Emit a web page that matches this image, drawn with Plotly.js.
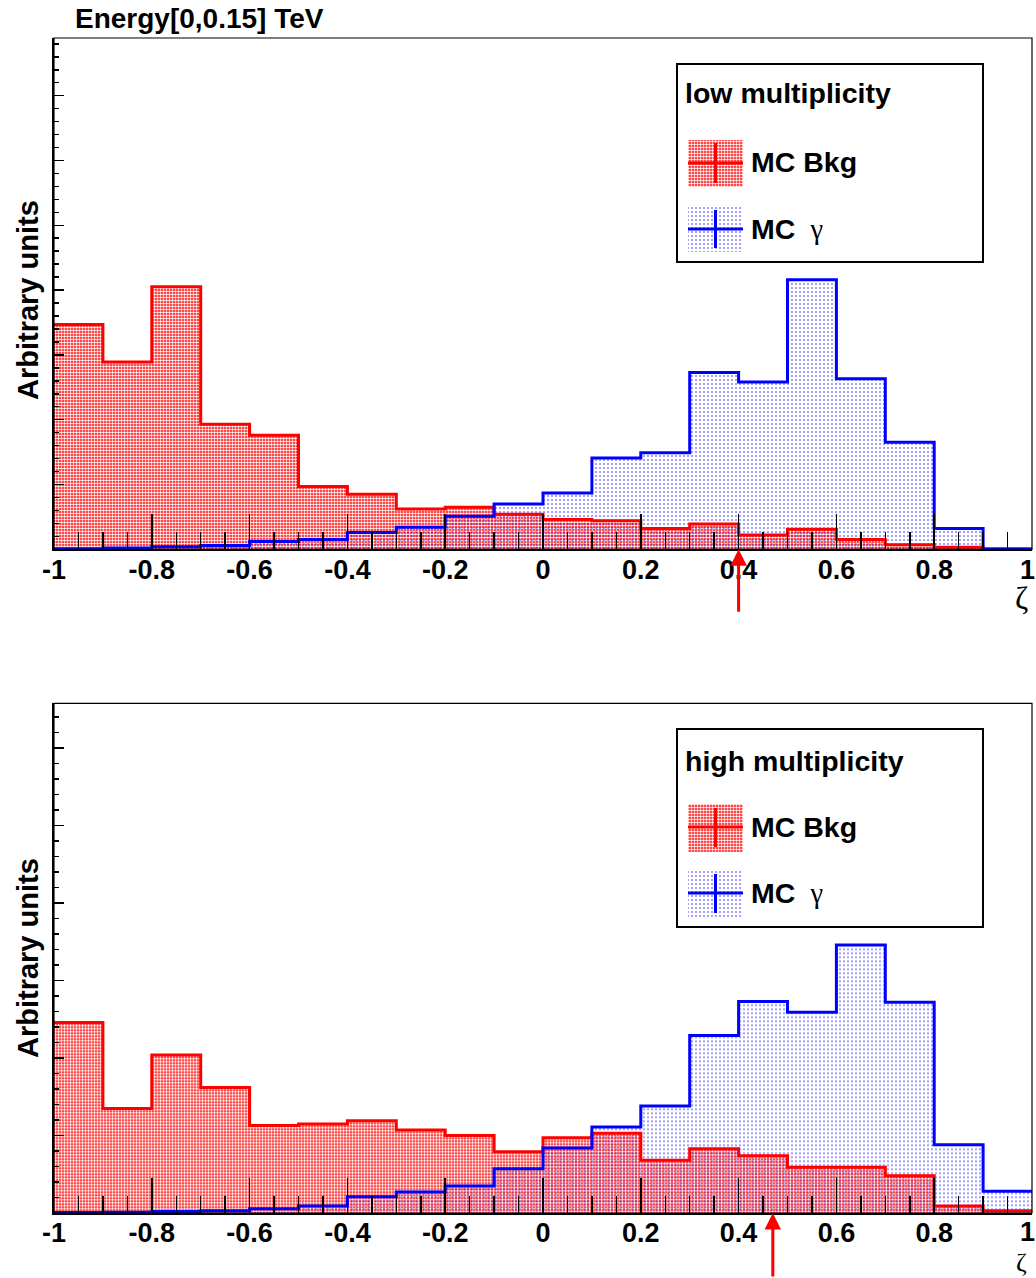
<!DOCTYPE html>
<html><head><meta charset="utf-8">
<script src="https://cdn.plot.ly/plotly-3.0.1.min.js"></script>
<style>html,body{margin:0;padding:0;background:#fff}</style>
</head><body><div id="chart" style="width:1036px;height:1278px"></div>
<script>
// ---------------- data ----------------
const binEdges = [-1, -0.9, -0.8, -0.7, -0.6, -0.5, -0.4, -0.3, -0.2, -0.1, 0,
                  0.1, 0.2, 0.3, 0.4, 0.5, 0.6, 0.7, 0.8, 0.9, 1];
// low multiplicity (arbitrary units)
const lowBkg   = [3.47, 2.89, 4.05, 1.93, 1.76, 0.97, 0.85, 0.62, 0.65, 0.54,
                  0.46, 0.44, 0.32, 0.39, 0.22, 0.31, 0.15, 0.07, 0.03, 0.005];
const lowGamma = [0.01, 0.02, 0.04, 0.06, 0.12, 0.15, 0.26, 0.34, 0.51, 0.70,
                  0.87, 1.41, 1.49, 2.73, 2.58, 4.16, 2.63, 1.65, 0.32, 0.005];
// high multiplicity (arbitrary units)
const highBkg   = [2.46, 1.35, 2.04, 1.62, 1.13, 1.15, 1.19, 1.07, 1.00, 0.79,
                   0.97, 1.03, 0.68, 0.83, 0.74, 0.59, 0.59, 0.48, 0.09, 0.03];
const highGamma = [0.008, 0.01, 0.02, 0.03, 0.055, 0.09, 0.21, 0.27, 0.35, 0.57,
                   0.84, 1.11, 1.38, 2.29, 2.73, 2.59, 3.46, 2.72, 0.88, 0.28];
const xTickVals = [-1, -0.8, -0.6, -0.4, -0.2, 0, 0.2, 0.4, 0.6, 0.8, 1];
const xTickText = ['-1', '-0.8', '-0.6', '-0.4', '-0.2', '0', '0.2', '0.4', '0.6', '0.8', '1'];
const cutLow = 0.4;
const cutHigh = 0.47;
const titleText = 'Energy[0,0.15] TeV';
const legendHeaders = ['low multiplicity', 'high multiplicity'];
const seriesNames = ['MC Bkg', 'MC γ'];

// ---------------- layout helpers ----------------
const L = 54, R = 1032, T = 38, B = 1213;
const px = x => (x - L) / (R - L);
const py = y => (B - y) / (B - T);
const RED = '#ff0000', BLUE = '#0000ff';
const redPattern  = {shape: '.', fgcolor: '#ffffff', bgcolor: RED, size: 3, solidity: 0.55};
const bluePattern = {shape: '.', fgcolor: BLUE, bgcolor: 'rgba(0,0,0,0)', size: 4, solidity: 0.09};
const stepY = v => v.concat([v[v.length - 1]]);

function panelTraces(bkg, gam, xa, ya) {
  return [
    {x: binEdges, y: stepY(bkg), xaxis: xa, yaxis: ya, mode: 'lines', line: {shape: 'hv', width: 0, color: RED},
     fill: 'tozeroy', fillcolor: RED, fillpattern: redPattern, hoverinfo: 'skip', name: seriesNames[0]},
    {x: binEdges, y: stepY(gam), xaxis: xa, yaxis: ya, mode: 'lines', line: {shape: 'hv', width: 0, color: BLUE},
     fill: 'tozeroy', fillcolor: BLUE, fillpattern: bluePattern, hoverinfo: 'skip', name: seriesNames[1]},
    {x: binEdges, y: stepY(bkg), xaxis: xa, yaxis: ya, mode: 'lines', line: {shape: 'hv', width: 3, color: RED}, hoverinfo: 'skip'},
    {x: binEdges, y: stepY(gam), xaxis: xa, yaxis: ya, mode: 'lines', line: {shape: 'hv', width: 3, color: BLUE}, hoverinfo: 'skip'}
  ];
}

// legend swatches drawn in a pixel-coordinate overlay subplot
function swatch(x0, y0, x1, y1, color, pattern) {
  return {x: [x0, x1, x1, x0, x0], y: [y0, y0, y1, y1, y0], xaxis: 'x3', yaxis: 'y3', mode: 'lines',
          line: {width: 0, color: color}, fill: 'toself', fillcolor: color, fillpattern: pattern, hoverinfo: 'skip'};
}

const data = [].concat(
  panelTraces(lowBkg, lowGamma, 'x', 'y'),
  panelTraces(highBkg, highGamma, 'x2', 'y2'),
  [swatch(688, 140, 743, 187, RED, redPattern), swatch(688, 206, 743, 252, BLUE, bluePattern),
   swatch(688, 804, 743, 852, RED, redPattern), swatch(688, 871, 743, 917, BLUE, bluePattern)]
);

// the last label ('1') sits at the page edge, so it is drawn as a right-anchored annotation
const lastIdx = xTickText.length - 1;
const axisTickText = xTickText.map((t, i) => (i === lastIdx ? '' : t));

const tickFont = {family: 'Liberation Sans, Arial, sans-serif', size: 27, color: '#000', weight: 'bold'};
function xAxis(anchor) {
  return {anchor: anchor, domain: [0, 1], range: [-1, 1], autorange: false,
    tickvals: xTickVals, ticktext: axisTickText, ticks: 'inside', ticklen: 35, tickwidth: 1.5, tickcolor: '#000',
    minor: {dtick: 0.05, tick0: 0, ticks: 'inside', ticklen: 17, tickwidth: 1.5, tickcolor: '#000'},
    showline: true, linewidth: 2, linecolor: '#000', showgrid: false, zeroline: false,
    tickfont: tickFont, ticklabelstandoff: -5,
    layer: 'above traces', fixedrange: true};
}
function yAxis(anchor, domain, top) {
  return {anchor: anchor, domain: domain, range: [0, top], autorange: false,
    tick0: 0, dtick: 1, ticks: 'inside', ticklen: 10, tickwidth: 1.5, tickcolor: '#000',
    minor: {dtick: 0.2, ticks: 'inside', ticklen: 5, tickwidth: 1.5, tickcolor: '#000'},
    showticklabels: false, showline: true, linewidth: 2, linecolor: '#000', showgrid: false, zeroline: false,
    layer: 'above traces', fixedrange: true};
}

const boldFont = (s) => ({family: 'Liberation Sans, Arial, sans-serif', size: s, color: '#000', weight: 'bold'});
const gammaSpan = 'MC <span style="font-family:Liberation Serif;font-weight:normal"> γ</span>';
const annotations = [
  {xref: 'paper', yref: 'paper', x: px(73), y: py(19), xanchor: 'left', yanchor: 'middle', text: titleText, showarrow: false, font: boldFont(28)},
  {xref: 'paper', yref: 'paper', x: px(28), y: py(300), xanchor: 'center', yanchor: 'middle', textangle: -90, text: 'Arbitrary units', showarrow: false, font: boldFont(29)},
  {xref: 'paper', yref: 'paper', x: px(28), y: py(958), xanchor: 'center', yanchor: 'middle', textangle: -90, text: 'Arbitrary units', showarrow: false, font: boldFont(29)},
  {xref: 'paper', yref: 'paper', x: px(1021), y: py(598), xanchor: 'center', yanchor: 'middle', text: 'ζ', showarrow: false,
   font: {family: 'Liberation Serif, serif', size: 32, color: '#000'}, borderpad: 0},
  {xref: 'paper', yref: 'paper', x: px(1021), y: py(1262), xanchor: 'center', yanchor: 'middle', text: 'ζ', showarrow: false,
   font: {family: 'Liberation Serif, serif', size: 26, color: '#000'}, borderpad: 0},
  // '1' tick labels at the right edge
  {xref: 'paper', yref: 'paper', x: px(1036), y: py(570), xanchor: 'right', yanchor: 'middle', text: xTickText[lastIdx], showarrow: false, font: tickFont, borderpad: 0},
  {xref: 'paper', yref: 'paper', x: px(1036), y: py(1232), xanchor: 'right', yanchor: 'middle', text: xTickText[lastIdx], showarrow: false, font: tickFont, borderpad: 0},
  // legend texts
  {xref: 'paper', yref: 'paper', x: px(683), y: py(93), xanchor: 'left', yanchor: 'middle', text: legendHeaders[0], showarrow: false, font: boldFont(28.5)},
  {xref: 'paper', yref: 'paper', x: px(749), y: py(162), xanchor: 'left', yanchor: 'middle', text: seriesNames[0], showarrow: false, font: boldFont(28.5)},
  {xref: 'paper', yref: 'paper', x: px(749), y: py(229), xanchor: 'left', yanchor: 'middle', text: gammaSpan, showarrow: false, font: boldFont(28.5)},
  {xref: 'paper', yref: 'paper', x: px(683), y: py(761), xanchor: 'left', yanchor: 'middle', text: legendHeaders[1], showarrow: false, font: boldFont(28.5)},
  {xref: 'paper', yref: 'paper', x: px(749), y: py(827), xanchor: 'left', yanchor: 'middle', text: seriesNames[0], showarrow: false, font: boldFont(28.5)},
  {xref: 'paper', yref: 'paper', x: px(749), y: py(893), xanchor: 'left', yanchor: 'middle', text: gammaSpan, showarrow: false, font: boldFont(28.5)},
  // cut arrows
  {xref: 'x', yref: 'y', x: cutLow, y: 0, ax: 0, ay: 64, text: '', showarrow: true, arrowhead: 2, arrowsize: 1.1, arrowwidth: 3, arrowcolor: RED, standoff: 0},
  {xref: 'x2', yref: 'y2', x: cutHigh, y: 0, ax: 0, ay: 70, text: '', showarrow: true, arrowhead: 2, arrowsize: 1.1, arrowwidth: 3, arrowcolor: RED, standoff: 0}
];

const lineBlack = (w) => ({color: '#000', width: w});
const shapes = [
  // frames
  {type: 'rect', xref: 'x domain', yref: 'y domain', x0: 0, x1: 1, y0: 0, y1: 1, line: lineBlack(1.2), layer: 'above'},
  {type: 'rect', xref: 'x2 domain', yref: 'y2 domain', x0: 0, x1: 1, y0: 0, y1: 1, line: lineBlack(1.2), layer: 'above'},
  // legend boxes
  {type: 'rect', xref: 'paper', yref: 'paper', x0: px(677), x1: px(983), y0: py(64), y1: py(262), line: lineBlack(2)},
  {type: 'rect', xref: 'paper', yref: 'paper', x0: px(677), x1: px(983), y0: py(729), y1: py(927), line: lineBlack(2)},
  // legend crosses
  {type: 'line', xref: 'paper', yref: 'paper', x0: px(688), x1: px(743), y0: py(163), y1: py(163), line: {color: RED, width: 3}},
  {type: 'line', xref: 'paper', yref: 'paper', x0: px(715.5), x1: px(715.5), y0: py(143), y1: py(183), line: {color: RED, width: 3}},
  {type: 'line', xref: 'paper', yref: 'paper', x0: px(688), x1: px(743), y0: py(229), y1: py(229), line: {color: BLUE, width: 3}},
  {type: 'line', xref: 'paper', yref: 'paper', x0: px(715.5), x1: px(715.5), y0: py(210), y1: py(248), line: {color: BLUE, width: 3}},
  {type: 'line', xref: 'paper', yref: 'paper', x0: px(688), x1: px(743), y0: py(827), y1: py(827), line: {color: RED, width: 3}},
  {type: 'line', xref: 'paper', yref: 'paper', x0: px(715.5), x1: px(715.5), y0: py(808), y1: py(847), line: {color: RED, width: 3}},
  {type: 'line', xref: 'paper', yref: 'paper', x0: px(688), x1: px(743), y0: py(893), y1: py(893), line: {color: BLUE, width: 3}},
  {type: 'line', xref: 'paper', yref: 'paper', x0: px(715.5), x1: px(715.5), y0: py(874), y1: py(913), line: {color: BLUE, width: 3}}
];

const layout = {
  width: 1036, height: 1278,
  margin: {l: L, r: 1036 - R, t: T, b: 1278 - B, pad: 0},
  paper_bgcolor: '#ffffff', plot_bgcolor: 'rgba(0,0,0,0)',
  showlegend: false,
  xaxis: xAxis('y'),
  yaxis: yAxis('x', [py(549.3), 1], 7.89),
  xaxis2: xAxis('y2'),
  yaxis2: yAxis('x2', [0, py(703.3)], 6.58),
  xaxis3: {anchor: 'y3', domain: [0, 1], range: [L, R], autorange: false, visible: false, fixedrange: true},
  yaxis3: {anchor: 'x3', domain: [0, 1], range: [B, T], autorange: false, visible: false, fixedrange: true},
  annotations: annotations,
  shapes: shapes
};

Plotly.newPlot('chart', data, layout, {staticPlot: true, displayModeBar: false});
</script>
</body></html>
